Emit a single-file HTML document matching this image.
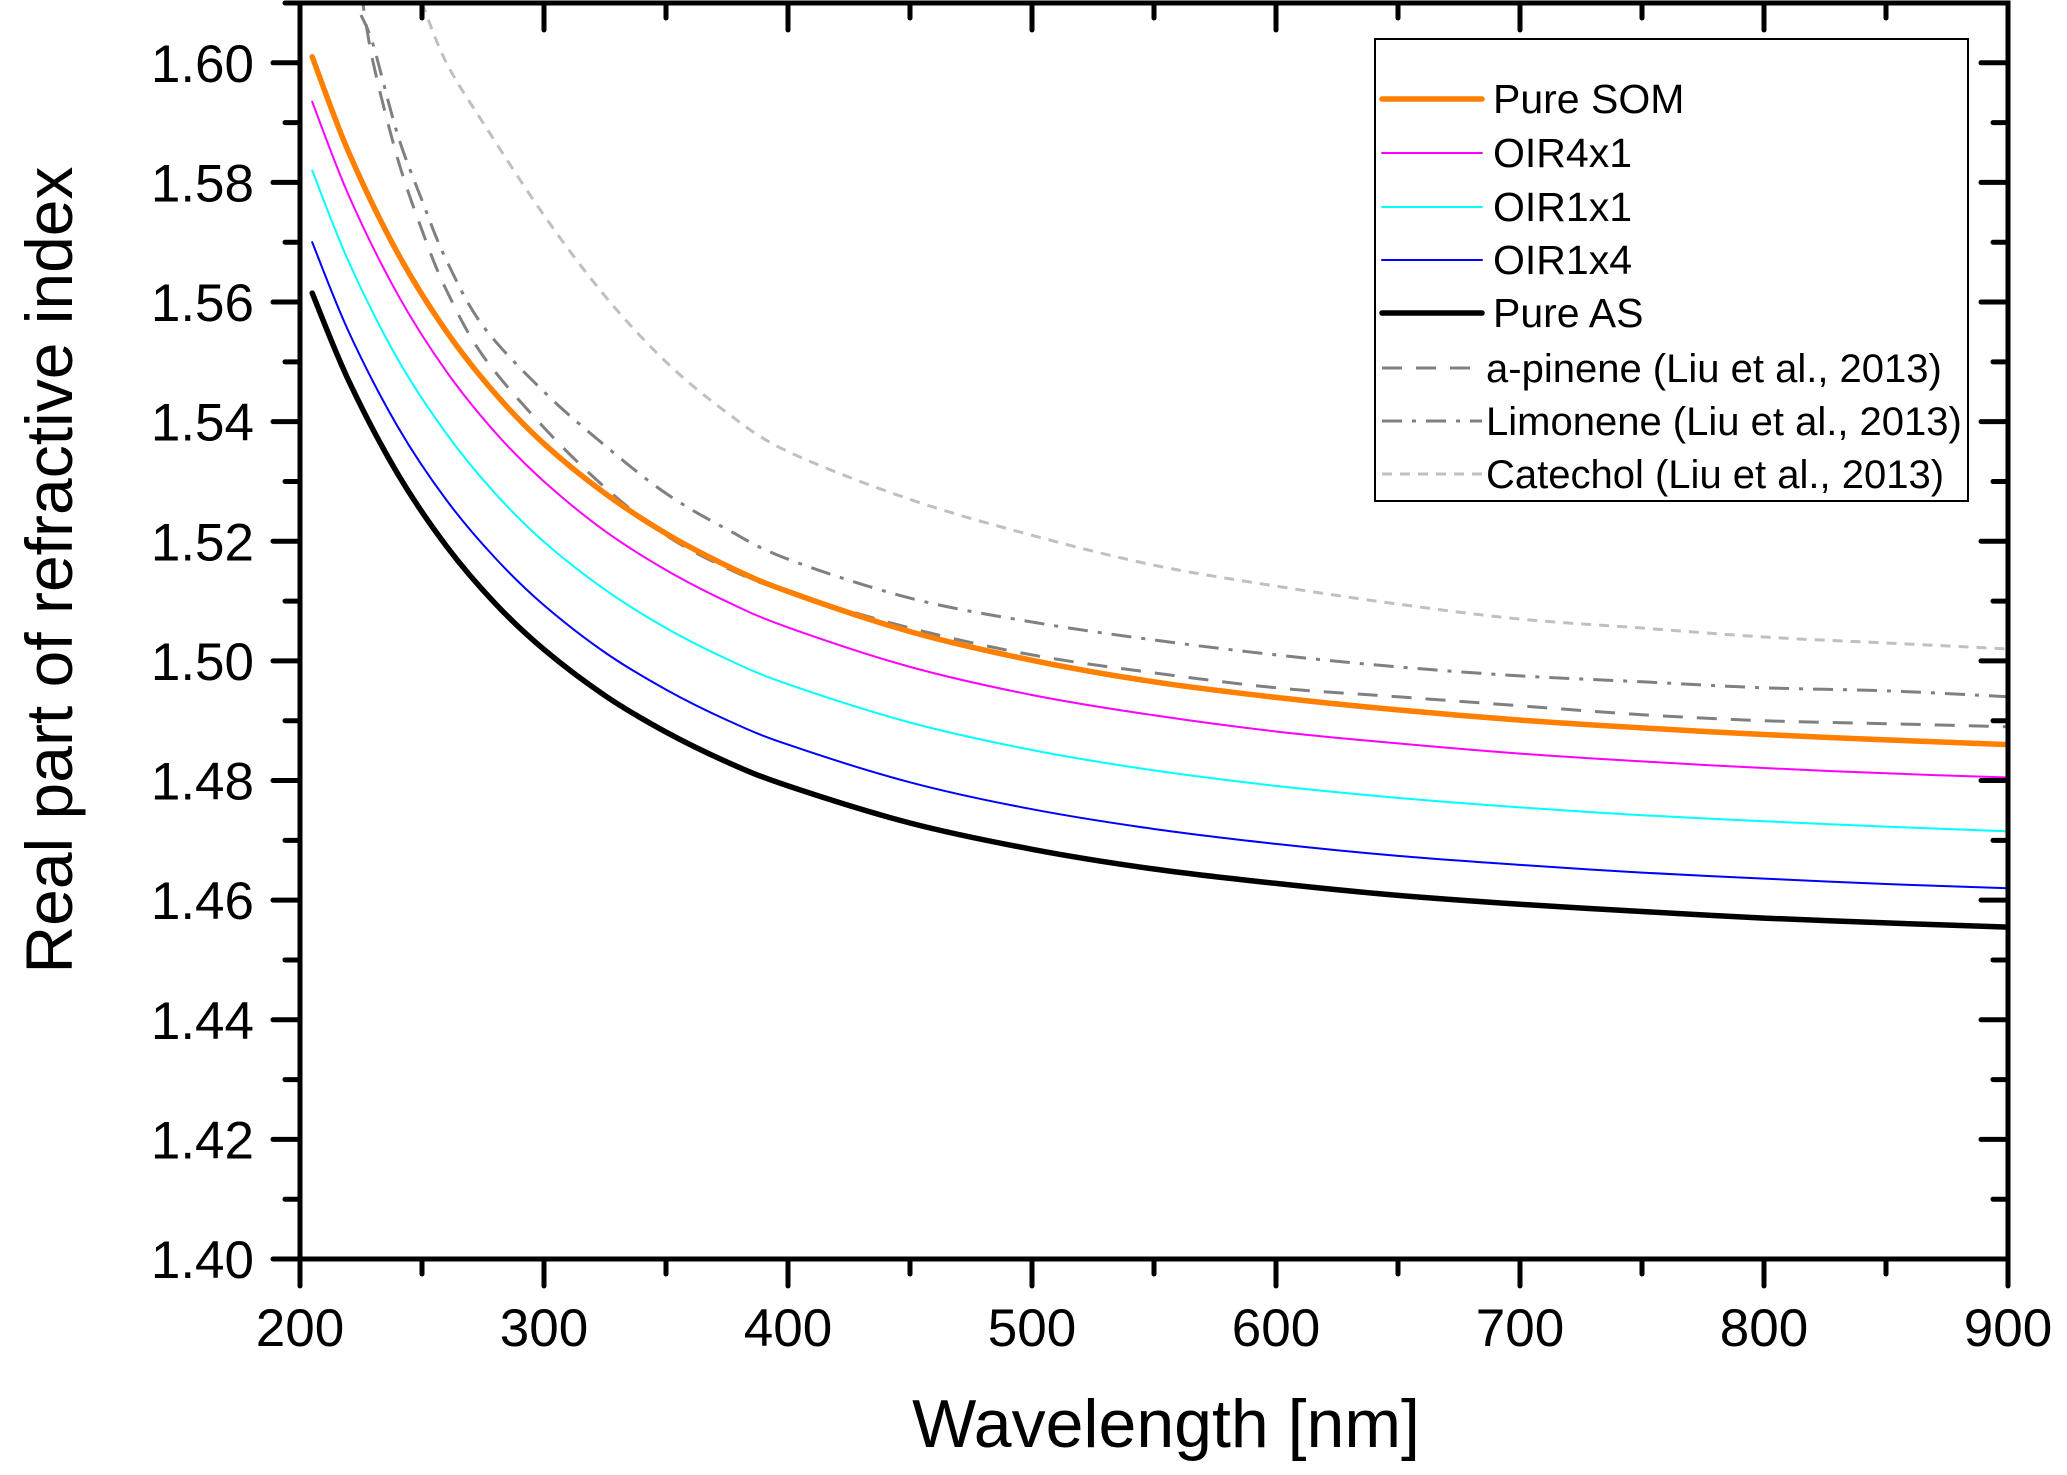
<!DOCTYPE html>
<html><head><meta charset="utf-8"><style>
html,body{margin:0;padding:0;background:#fff;}
svg{display:block;font-family:"Liberation Sans",Arial,sans-serif;}
</style></head><body>
<svg id="chart" width="2067" height="1475" viewBox="0 0 2067 1475" xmlns="http://www.w3.org/2000/svg">
<defs><clipPath id="plotclip"><rect x="300" y="3" width="1708" height="1256"/></clipPath></defs>
<g id="series" clip-path="url(#plotclip)"></g>
<g id="axes"></g>
<text transform="translate(72,570) rotate(-90)" text-anchor="middle" font-size="66">Real part of refractive index</text>
<text x="1166" y="1447" text-anchor="middle" font-size="68">Wavelength [nm]</text>
<g id="legend"></g>
</svg>
<script>
const xTicks = [200, 300, 400, 500, 600, 700, 800, 900];
const yTicks = [1.40, 1.42, 1.44, 1.46, 1.48, 1.50, 1.52, 1.54, 1.56, 1.58, 1.60];
const yTickLabels = ["1.40","1.42","1.44","1.46","1.48","1.50","1.52","1.54","1.56","1.58","1.60"];
const seriesNames = ["Pure SOM","OIR4x1","OIR1x1","OIR1x4","Pure AS","a-pinene (Liu et al., 2013)","Limonene (Liu et al., 2013)","Catechol (Liu et al., 2013)"];
const wlModel = [205,220,240,260,280,300,325,350,375,400,450,500,550,600,650,700,750,800,850,900];
const pureSOM = [1.6010,1.5850,1.5682,1.5551,1.5447,1.5363,1.5280,1.5213,1.5159,1.5116,1.5049,1.5001,1.4965,1.4939,1.4918,1.4901,1.4888,1.4877,1.4868,1.4860];
const oir4x1 = [1.5935,1.5778,1.5613,1.5484,1.5382,1.5300,1.5217,1.5152,1.5099,1.5056,1.4990,1.4943,1.4909,1.4882,1.4862,1.4845,1.4832,1.4821,1.4812,1.4805];
const oir1x1 = [1.5820,1.5667,1.5505,1.5380,1.5280,1.5199,1.5119,1.5055,1.5003,1.4961,1.4897,1.4851,1.4817,1.4791,1.4771,1.4755,1.4742,1.4732,1.4723,1.4715];
const oir1x4 = [1.5700,1.5550,1.5392,1.5269,1.5172,1.5093,1.5014,1.4952,1.4901,1.4860,1.4797,1.4752,1.4719,1.4694,1.4674,1.4659,1.4646,1.4636,1.4627,1.4620];
const pureAS = [1.5615,1.5468,1.5313,1.5192,1.5096,1.5019,1.4942,1.4881,1.4831,1.4791,1.4729,1.4685,1.4652,1.4628,1.4608,1.4593,1.4581,1.4570,1.4562,1.4555];
const wlRef = [225,230,240,250,260,275,300,325,350,375,400,450,500,550,600,650,700,750,800,850,900];
const aPinene = [1.612,1.600,1.584,1.572,1.562,1.551,1.539,1.529,1.521,1.5155,1.5115,1.5055,1.501,1.498,1.4955,1.494,1.4925,1.491,1.490,1.4895,1.489];
const limonene = [1.608,1.603,1.588,1.577,1.567,1.556,1.545,1.536,1.528,1.522,1.517,1.5105,1.5065,1.5035,1.501,1.499,1.4975,1.4965,1.4955,1.495,1.494];
const wlCat = [250,260,275,300,325,350,375,400,450,500,550,600,650,700,750,800,850,900];
const catechol = [1.610,1.600,1.590,1.5745,1.561,1.550,1.5415,1.535,1.527,1.521,1.516,1.5125,1.5095,1.507,1.5055,1.504,1.503,1.502];

const X0=300, X1=2008, Y0=1259, Y1=3;
const xMin=200, xMax=900, yMin=1.40, yMax=1.61;
function sx(v){return X0+(v-xMin)/(xMax-xMin)*(X1-X0);}
function sy(v){return Y0-(v-yMin)/(yMax-yMin)*(Y0-Y1);}
const NS="http://www.w3.org/2000/svg";
function mk(tag, attrs, parent){const e=document.createElementNS(NS,tag);for(const k in attrs)e.setAttribute(k,attrs[k]);parent.appendChild(e);return e;}

const styles = [
 {c:"#ff7f00",w:5.5,d:""},{c:"#ff00ff",w:2,d:""},{c:"#00ffff",w:2,d:""},{c:"#0000ff",w:2,d:""},
 {c:"#000000",w:5.5,d:""},{c:"#808080",w:3,d:"20,14"},{c:"#808080",w:3,d:"20,10,4,10"},{c:"#c0c0c0",w:3,d:"10,8"}];
const allData = [[wlModel,pureSOM],[wlModel,oir4x1],[wlModel,oir1x1],[wlModel,oir1x4],[wlModel,pureAS],[wlRef,aPinene],[wlRef,limonene],[wlCat,catechol]];
const seriesKeys = ["pure-som","oir4x1","oir1x1","oir1x4","pure-as","a-pinene","limonene","catechol"];
const sg=document.getElementById('series');
const order=[7,6,5,3,2,1,4,0];
order.forEach(i=>{
  const [xs,ys]=allData[i];
  const pts=xs.map((x,j)=>[sx(x),sy(ys[j])]);
  let d="M"+pts[0][0].toFixed(1)+","+pts[0][1].toFixed(1);
  for(let j=0;j<pts.length-1;j++){
    const p0=pts[Math.max(0,j-1)],p1=pts[j],p2=pts[j+1],p3=pts[Math.min(pts.length-1,j+2)];
    const c1=[p1[0]+(p2[0]-p0[0])/6,p1[1]+(p2[1]-p0[1])/6];
    const c2=[p2[0]-(p3[0]-p1[0])/6,p2[1]-(p3[1]-p1[1])/6];
    d+=" C"+c1[0].toFixed(1)+","+c1[1].toFixed(1)+" "+c2[0].toFixed(1)+","+c2[1].toFixed(1)+" "+p2[0].toFixed(1)+","+p2[1].toFixed(1);
  }
  const s=styles[i];
  const p=mk('path',{d:d,fill:"none",stroke:s.c,"stroke-width":s.w,"stroke-dasharray":s.d,"stroke-linecap":s.d?"butt":"round","stroke-linejoin":"round"},sg);
  
  
});

const ag=document.getElementById('axes');
const frame=mk('rect',{x:X0,y:Y1,width:X1-X0,height:Y0-Y1,fill:"none",stroke:"#000","stroke-width":5},ag);


const tk={stroke:"#000","stroke-width":5,"stroke-linecap":"round"};
for(let v=200;v<=900;v+=50){
  const major=v%100===0, x=sx(v), L=major?27:15;
  const t1=mk('line',Object.assign({x1:x,y1:Y0,x2:x,y2:Y0+L},tk),ag);
  
  
  const t2=mk('line',Object.assign({x1:x,y1:Y1,x2:x,y2:Y1+L},tk),ag);
  
  
}
xTicks.forEach(v=>{
  const t=mk('text',{x:sx(v),y:1346,"text-anchor":"middle","font-size":53},ag);
  t.textContent=v;
  
  
});
for(let k=0;k<=21;k++){
  const v=1.40+k*0.01, y=sy(v), major=k%2===0, L=major?27:15;
  const t1=mk('line',Object.assign({x1:X0-L,y1:y,x2:X0,y2:y},tk),ag);
  
  
  const t2=mk('line',Object.assign({x1:X1-L,y1:y,x2:X1,y2:y},tk),ag);
  
  
}
yTicks.forEach((v,i)=>{
  const t=mk('text',{x:254,y:sy(v)+19,"text-anchor":"end","font-size":53},ag);
  t.textContent=yTickLabels[i];
  
  
});

const lg=document.getElementById('legend');
const box=mk('rect',{x:1375,y:39,width:593,height:462,fill:"#fff",stroke:"#000","stroke-width":2},lg);


const ly=[99,153,207,260,313,368,421,474];
seriesNames.forEach((n,i)=>{
  const s=styles[i];
  const g=mk('g',{},lg);
  
  
  mk('line',{x1:1382,y1:ly[i],x2:1482,y2:ly[i],stroke:s.c,"stroke-width":s.w,"stroke-dasharray":s.d,"stroke-linecap":s.d?"butt":"round"},g);
  const t=mk('text',{x:i<5?1493:1486,y:ly[i]+14,"font-size":i<5?41:40},g);
  t.textContent=n;
});
</script>
</body></html>
